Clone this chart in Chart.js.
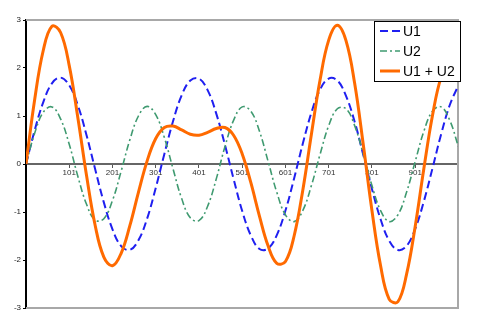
<!DOCTYPE html>
<html>
<head>
<meta charset="utf-8">
<script src="https://cdn.jsdelivr.net/npm/chart.js@4"></script>
<style>
  html, body { margin: 0; padding: 0; background: #fff; }
  #wrap { width: 482px; height: 331px; }
</style>
</head>
<body>
<div id="wrap"><canvas id="myChart" width="482" height="331"></canvas></div>
<script>
// sample positions along the x axis (every 20 steps)
var xs = [1, 21, 41, 61, 81, 101, 121, 141, 161, 181,
  201, 221, 241, 261, 281, 301, 321, 341, 361, 381,
  401, 421, 441, 461, 481, 501, 521, 541, 561, 581,
  601, 621, 641, 661, 681, 701, 721, 741, 761, 781,
  801, 821, 841, 861, 881, 901, 921, 941, 961, 981, 1001];

var u1 = [0, 0.70, 1.29, 1.68, 1.80, 1.64, 1.22, 0.60, -0.11, -0.80,
  -1.36, -1.71, -1.79, -1.59, -1.14, -0.50, 0.21, 0.89, 1.43, 1.74,
  1.78, 1.54, 1.05, 0.40, -0.31, -0.98, -1.49, -1.77, -1.76, -1.48,
  -0.97, -0.30, 0.42, 1.07, 1.55, 1.78, 1.74, 1.42, 0.88, 0.19,
  -0.52, -1.15, -1.60, -1.79, -1.71, -1.35, -0.78, -0.09, 0.62, 1.23, 1.64];

var u2 = [0, 0.64, 1.08, 1.19, 0.94, 0.41, -0.26, -0.84, -1.17, -1.14,
  -0.76, -0.15, 0.50, 1.00, 1.20, 1.03, 0.55, -0.10, -0.72, -1.12,
  -1.18, -0.88, -0.31, 0.36, 0.91, 1.19, 1.10, 0.68, 0.05, -0.59,
  -1.06, -1.20, -0.97, -0.45, 0.20, 0.80, 1.15, 1.15, 0.80, 0.21,
  -0.45, -0.97, -1.20, -1.06, -0.59, 0.05, 0.68, 1.10, 1.19, 0.91, 0.36];

var usum = [0, 1.34, 2.37, 2.87, 2.74, 2.05, 0.96, -0.24, -1.28, -1.94,
  -2.12, -1.86, -1.29, -0.59, 0.06, 0.53, 0.76, 0.79, 0.71, 0.62,
  0.60, 0.66, 0.74, 0.76, 0.60, 0.21, -0.39, -1.09, -1.71, -2.07,
  -2.03, -1.50, -0.55, 0.62, 1.75, 2.58, 2.89, 2.57, 1.68, 0.40,
  -0.97, -2.12, -2.82, -2.87, -2.30, -1.30, -0.10, 1.01, 1.81, 2.14, 2.00];

var xTicks = [101, 201, 301, 401, 501, 601, 701, 801, 901];
var names = ['U1', 'U2', 'U1 + U2'];

function pts(ys) {
  return ys.map(function (v, i) { return { x: xs[i], y: v }; });
}

// grey frame around the plot, like the original
var framePlugin = {
  id: 'frame',
  beforeDatasetsDraw: function (chart) {
    var a = chart.chartArea, c = chart.ctx;
    c.save();
    c.strokeStyle = '#a8a8a8';
    c.lineWidth = 2;
    c.beginPath();
    c.moveTo(a.left, a.top); c.lineTo(a.right, a.top);
    c.lineTo(a.right, a.bottom); c.lineTo(a.left, a.bottom);
    c.stroke();
    c.restore();
  }
};

// legend box sitting in the top right corner
var boxLegend = {
  id: 'boxLegend',
  afterDraw: function (chart) {
    var c = chart.ctx;
    var bx = 374, by = 21, bw = 86, bh = 60;
    c.save();
    c.fillStyle = '#fff';
    c.fillRect(bx, by, bw, bh);
    c.strokeStyle = '#000';
    c.lineWidth = 1;
    c.strokeRect(bx + 0.5, by + 0.5, bw, bh);
    chart.data.datasets.forEach(function (ds, i) {
      var y = by + 10 + i * 20;
      c.strokeStyle = ds.borderColor;
      c.lineWidth = ds.borderWidth;
      c.setLineDash(ds.borderDash || []);
      c.beginPath();
      c.moveTo(bx + 6, y);
      c.lineTo(bx + 26, y);
      c.stroke();
      c.setLineDash([]);
      c.fillStyle = '#000';
      c.font = '14px "Liberation Sans", Arial, sans-serif';
      c.textBaseline = 'middle';
      c.fillText(ds.label, bx + 29, y + 1);
    });
    c.restore();
  }
};

var ctx = document.getElementById('myChart').getContext('2d');

const myChart = new Chart(ctx, {
  type: 'line',
  data: {
    datasets: [{
      label: names[0],
      data: pts(u1),
      borderColor: '#1f1ff0',
      borderWidth: 2,
      borderDash: [8, 4],
      order: 2
    }, {
      label: names[1],
      data: pts(u2),
      borderColor: '#3f9a70',
      borderWidth: 1.6,
      borderDash: [7, 3, 2, 3],
      order: 1
    }, {
      label: names[2],
      data: pts(usum),
      borderColor: '#ff6a00',
      borderWidth: 3,
      order: 0
    }]
  },
  options: {
    responsive: false,
    animation: false,
    devicePixelRatio: 1,
    elements: { point: { radius: 0 }, line: { tension: 0.4 } },
    layout: { padding: { top: 20, right: 24, bottom: 23, left: 0 } },
    plugins: { legend: { display: false }, tooltip: { enabled: false } },
    scales: {
      x: {
        type: 'linear',
        min: 1,
        max: 1000,
        position: { y: 0 },
        afterBuildTicks: function (scale) {
          scale.ticks = xTicks.map(function (v) { return { value: v }; });
        },
        grid: { drawOnChartArea: false, drawTicks: true, tickLength: 3, color: '#555' },
        border: { color: '#666', width: 2 },
        ticks: {
          autoSkip: false,
          maxRotation: 0,
          padding: 1,
          color: '#333',
          font: { size: 8, family: '"Liberation Sans", Arial, sans-serif' }
        }
      },
      y: {
        min: -3,
        max: 3,
        afterFit: function (scale) { scale.width = 26; },
        grid: { drawOnChartArea: false, drawTicks: true, tickLength: 3, color: '#000' },
        border: { color: '#000', width: 2 },
        ticks: {
          stepSize: 1,
          padding: 2,
          color: '#222',
          font: { size: 8, family: '"Liberation Sans", Arial, sans-serif' }
        }
      }
    }
  },
  plugins: [framePlugin, boxLegend]
});
</script>
</body>
</html>
